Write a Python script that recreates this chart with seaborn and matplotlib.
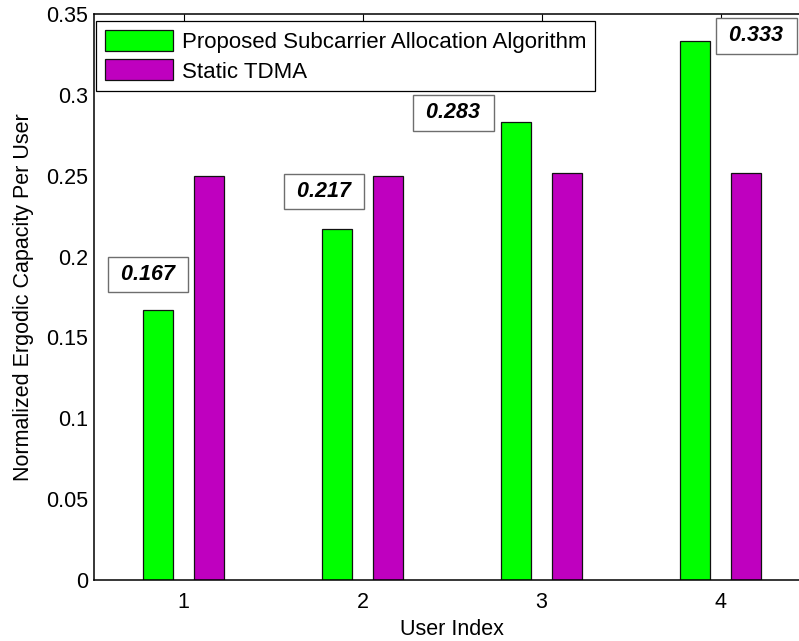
import matplotlib
matplotlib.use("Agg")
import matplotlib.pyplot as plt
import seaborn as sns
import pandas as pd

# Normalized ergodic capacity per user for the two schemes
users = ["1", "2", "3", "4"]
proposed = [0.167, 0.217, 0.283, 0.333]
static_tdma = [0.2497, 0.2497, 0.2515, 0.2515]
schemes = ["Proposed Subcarrier Allocation Algorithm", "Static TDMA"]
yticks = [0, 0.05, 0.1, 0.15, 0.2, 0.25, 0.3, 0.35]
ytick_labels = ["0", "0.05", "0.1", "0.15", "0.2", "0.25", "0.3", "0.35"]

# Where each value callout box sits (category index, capacity)
callout_x = [-0.197, 0.784, 1.508, 3.201]
callout_y = [0.189, 0.240, 0.2888, 0.3364]

df = pd.DataFrame({
    "User Index": users * 2,
    "capacity": proposed + static_tdma,
    "scheme": [schemes[0]] * len(users) + [schemes[1]] * len(users),
})

sns.set_theme(style="white")
plt.rcParams["font.family"] = ["Liberation Sans", "DejaVu Sans"]
plt.rcParams["text.color"] = "black"
plt.rcParams["axes.labelcolor"] = "black"

FS = 15.5
fig = plt.figure(figsize=(7.99, 6.41), dpi=100)
W, H = 799, 641
ax = fig.add_axes([94 / W, (H - 580) / H, 716 / W, 566 / H])

sns.barplot(
    data=df, x="User Index", y="capacity", hue="scheme",
    palette=["#00ff00", "#bf00bf"], width=0.57, gap=0.412,
    edgecolor="#111111", linewidth=0.9, errorbar=None, ax=ax,
    saturation=1,
)

ax.set_xlim(-0.5, 3.5)
ax.set_ylim(0, 0.35)
ax.set_yticks(yticks)
ax.set_yticklabels(ytick_labels)
ax.set_xlabel("User Index", fontsize=FS, color="black", labelpad=4)
ax.set_ylabel("Normalized Ergodic Capacity Per User", fontsize=FS,
              color="black", labelpad=9)

ax.tick_params(direction="in", top=True, right=True, length=6, width=0.8,
               colors="black", labelsize=FS)
ax.tick_params(axis="x", pad=9)
ax.tick_params(axis="y", pad=4)
for s in ax.spines.values():
    s.set_visible(True)
    s.set_color("black")
    s.set_linewidth(1.1)

handles, labels = ax.get_legend_handles_labels()
leg = ax.legend(
    handles, labels, loc="upper left", bbox_to_anchor=(0.003, 0.988),
    borderaxespad=0, fontsize=16, handlelength=3.05, handleheight=1.08,
    handletextpad=0.4, labelspacing=0.3, borderpad=0.4,
    fancybox=False, framealpha=1, edgecolor="black",
)
leg.get_frame().set_linewidth(0.9)
for t in leg.get_texts():
    t.set_color("black")
for h in leg.legend_handles:
    h.set_edgecolor("#111111")
    h.set_linewidth(0.9)

# Value callouts for the proposed scheme
for x, y, v in zip(callout_x, callout_y, proposed):
    ax.text(x, y, f" {v:.3f} ", fontsize=FS, fontweight="bold",
            fontstyle="italic", ha="center", va="center", color="black",
            bbox=dict(boxstyle="square,pad=0.33", facecolor="white",
                      edgecolor="#6e6e6e", linewidth=1.0))

fig.savefig("out.png", dpi=100)
